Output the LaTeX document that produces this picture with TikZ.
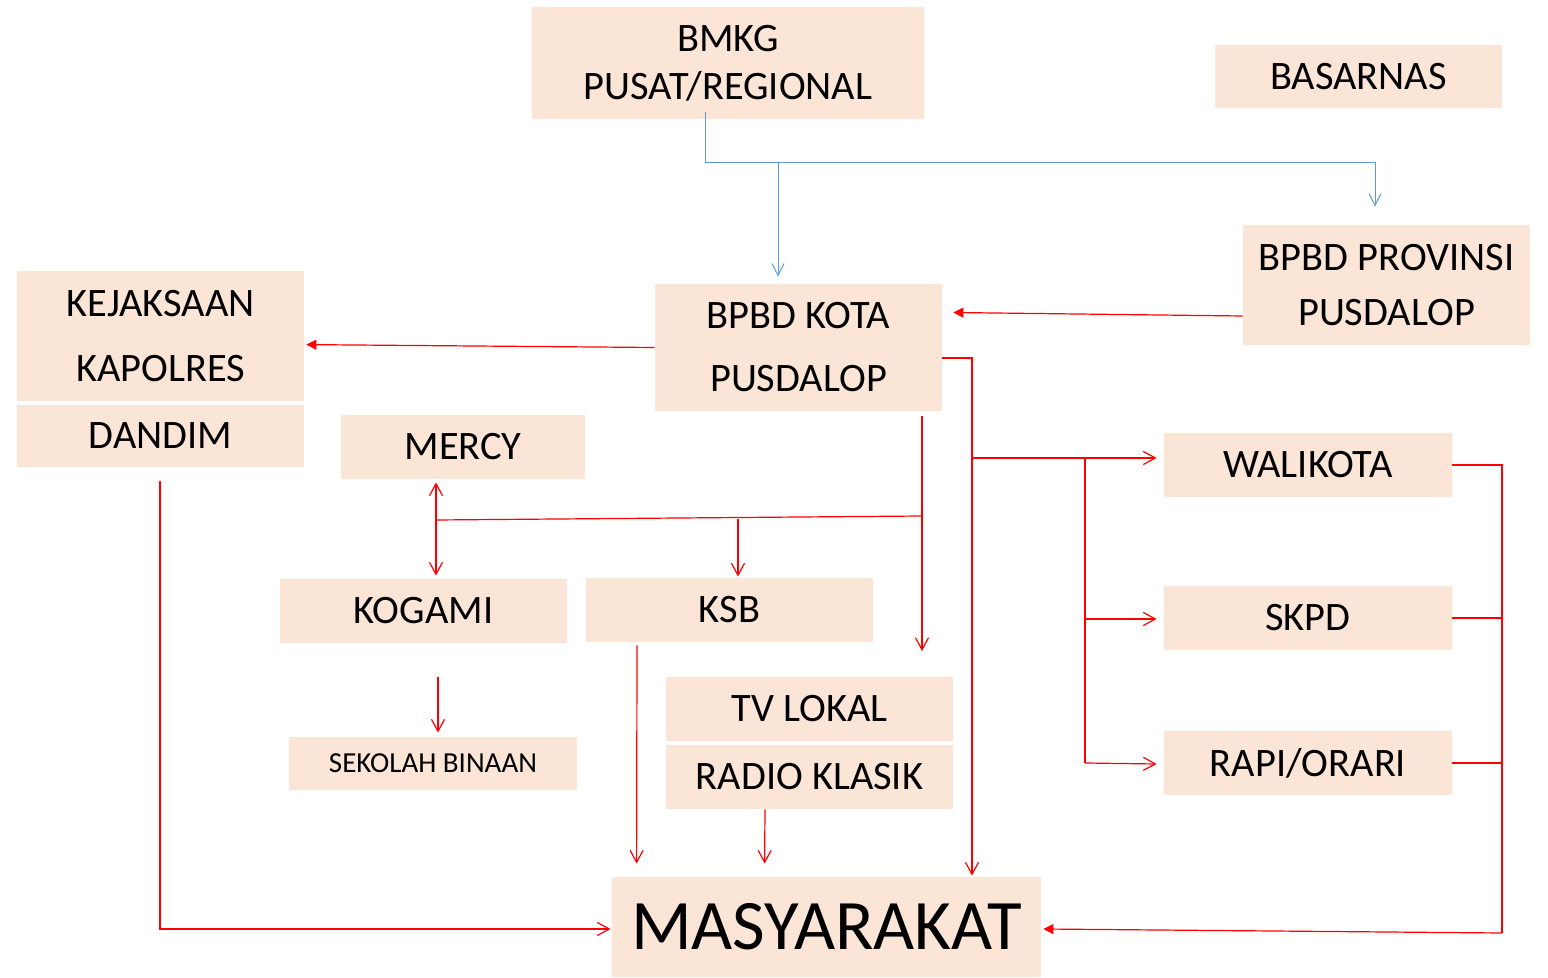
\documentclass[tikz,border=0pt]{standalone}
\usepackage{fontspec}
\setmainfont{Carlito}
\usetikzlibrary{arrows.meta,calc}
\definecolor{peach}{RGB}{251,229,214}
\definecolor{lineblue}{RGB}{91,155,213}
\definecolor{linered}{RGB}{255,0,0}
\tikzset{
  box/.style={fill=peach,draw=none,inner sep=0pt,align=center,font=\fontsize{20.2}{24}\selectfont},
  blueline/.style={draw=lineblue,line width=0.5pt,-{Straight Barb[length=6pt,width=6pt]}},
  redline/.style={draw=linered,line width=0.6pt},
  openarr/.style={-{Straight Barb[length=6pt,width=6.5pt]}},
  bothopen/.style={{Straight Barb[length=6pt,width=6.5pt]}-{Straight Barb[length=6pt,width=6.5pt]}},
  fillarr/.style={-{Triangle[length=5pt,width=5pt]}},
}
\begin{document}
\begin{tikzpicture}[x=0.5pt,y=-0.5pt]
\useasboundingbox (0,0) rectangle (1548,978);
% boxes
\node[box,minimum width=196pt,minimum height=56pt] (bmkg) at (728,63) {BMKG\\PUSAT/REGIONAL};
\node[box,minimum width=143.5pt,minimum height=31.5pt] (basarnas) at (1358.5,76.5) {BASARNAS};
\node[box,minimum width=143.5pt,minimum height=60pt,font=\fontsize{20.2}{27.5}\selectfont] (prov) at (1386.5,285) {BPBD PROVINSI\\PUSDALOP};
\node[box,minimum width=143.5pt,minimum height=63.5pt,font=\fontsize{20.2}{31.5}\selectfont] (kota) at (798.5,347.5) {BPBD KOTA\\PUSDALOP};
\node[box,minimum width=143.5pt,minimum height=33pt] (kejak) at (160.5,304) {KEJAKSAAN};
\node[box,minimum width=143.5pt,minimum height=32pt] (kapol) at (160.5,369) {KAPOLRES};
\node[box,minimum width=143.5pt,minimum height=31pt] (dandim) at (160.5,436) {DANDIM};
\node[box,minimum width=122pt,minimum height=32pt] (mercy) at (463,447) {MERCY};
\node[box,minimum width=143.5pt,minimum height=32pt] (kogami) at (423.5,611) {KOGAMI};
\node[box,minimum width=143.5pt,minimum height=32pt] (ksb) at (729.5,610) {KSB};
\node[box,minimum width=144pt,minimum height=26.5pt,font=\fontsize{14.5}{17}\selectfont] (sekolah) at (433,763.5) {SEKOLAH BINAAN};
\node[box,minimum width=143.5pt,minimum height=32pt] (tv) at (809.5,709) {TV LOKAL};
\node[box,minimum width=143.5pt,minimum height=32pt] (radio) at (809.5,777) {RADIO KLASIK};
\node[box,minimum width=214.5pt,minimum height=50pt,font=\fontsize{35.5}{40}\selectfont] (masy) at (826.5,927) {MASYARAKAT};
\node[box,minimum width=144pt,minimum height=32pt] (wali) at (1308,465) {WALIKOTA};
\node[box,minimum width=144pt,minimum height=32pt] (skpd) at (1308,618) {SKPD};
\node[box,minimum width=144pt,minimum height=32pt] (rapi) at (1308,763) {RAPI/ORARI};
% junction / free-end coordinates
\coordinate (b1) at (705,112);
\coordinate (b2) at (705,163);
\coordinate (b3) at (778,163);
\coordinate (r1) at (972,458);
\coordinate (r2) at (1085,458);
\coordinate (r3) at (1085,763);
\coordinate (r4) at (1085,619);
\coordinate (r5) at (1502,933);
\coordinate (r6) at (922,516);
\coordinate (r7) at (436,520);
\coordinate (r8) at (738,519);
\coordinate (r9) at (922,651);
\coordinate (r10) at (438,677);
% blue connectors
\draw[blueline] (b1) -- (b2) -| ($(prov.north)+(-11.5,-18)$);
\draw[blueline] (b3) -- ($(kota.north)+(-20.5,-7)$);
% red connectors
\draw[redline,fillarr] ($(prov.west)+(0,31)$) -- ($(kota.east)+(11,-35)$);
\draw[redline,fillarr] (kota.west) -- ($(kapol.north east)+(2,8)$);
\draw[redline,openarr] ($(kota.east)+(0,10.5)$) -| ($(masy.north)+(145.5,-1)$);
\draw[redline,openarr] (r1) -- ($(wali.west)+(-7,-7)$);
\draw[redline] (r2) -- (r3);
\draw[redline,openarr] (r4) -- ($(skpd.west)+(-7,1)$);
\draw[redline,openarr] (r3) -- ($(rapi.west)+(-7,1)$);
\draw[redline] (wali.east) -| (r5);
\draw[redline] (skpd.east) -- (skpd.east -| r5);
\draw[redline] (rapi.east) -- (rapi.east -| r5);
\draw[redline,fillarr] (r5) -- ($(masy.east)+(2,2)$);
\draw[redline,openarr] ($(kota.south)+(123.5,5)$) -- (r9);
\draw[redline] (r6) -- (r7);
\draw[redline,bothopen] ($(mercy.south)+(-27,3)$) -- ($(kogami.north)+(12.5,-3)$);
\draw[redline,openarr] (r8) -- ($(ksb.north)+(8.5,-1)$);
\draw[redline,openarr] (r10) -- ($(sekolah.north)+(5,-4)$);
\draw[redline,openarr] ($(ksb.south)+(-92.5,3)$) -- ($(masy.north west)+(25,-13)$);
\draw[redline,openarr] ($(radio.south)+(-44.5,0)$) -- ($(masy.north west)+(153,-13)$);
\draw[redline,openarr] ($(dandim.south)+(-0.5,14)$) |- ($(masy.west)+(-1,2)$);
\end{tikzpicture}
\end{document}
